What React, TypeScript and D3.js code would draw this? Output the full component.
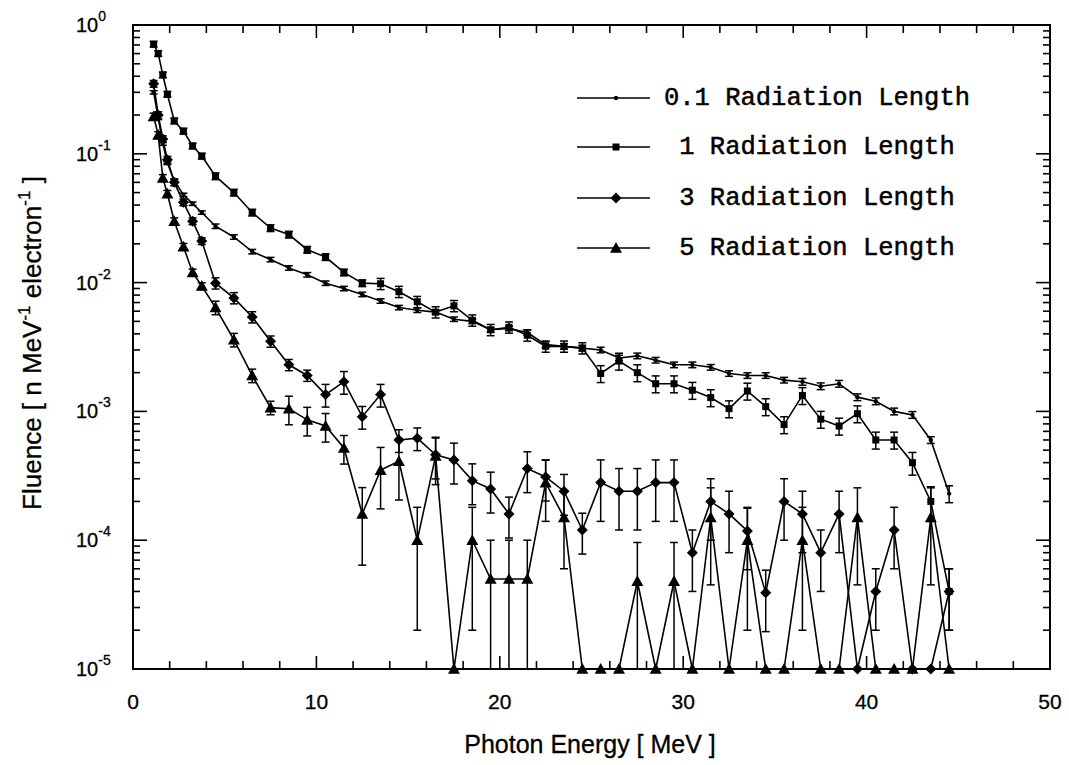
import React from "react";
import * as d3 from "d3";

// Photon energy bin centres (MeV)
const ENERGY = [1.125, 1.375, 1.625, 1.875, 2.25, 2.75, 3.25, 3.75, 4.5, 5.5, 6.5, 7.5, 8.5, 9.5, 10.5, 11.5, 12.5, 13.5, 14.5, 15.5, 16.5, 17.5, 18.5, 19.5, 20.5, 21.5, 22.5, 23.5, 24.5, 25.5, 26.5, 27.5, 28.5, 29.5, 30.5, 31.5, 32.5, 33.5, 34.5, 35.5, 36.5, 37.5, 38.5, 39.5, 40.5, 41.5, 42.5, 43.5, 44.5];

// Fluence per series (0 = empty bin, drawn on the bottom axis)
const FLU_01 = [0.30, 0.19, 0.12, 0.085, 0.062, 0.048, 0.041, 0.035, 0.0274, 0.0226, 0.0174, 0.0151, 0.013, 0.0115, 0.0099, 0.009, 0.0081, 0.0072, 0.0064, 0.0061, 0.0059, 0.0052, 0.005, 0.0043, 0.0044, 0.0041, 0.0033, 0.0032, 0.0031, 0.003, 0.0026, 0.0027, 0.0025, 0.0023, 0.0023, 0.0022, 0.00197, 0.0019, 0.0019, 0.00175, 0.0017, 0.00157, 0.00164, 0.00129, 0.0012, 0.001, 0.00094, 0.0006, 0.00023];
const FLU_1 = [0.71, 0.60, 0.41, 0.29, 0.18, 0.15, 0.115, 0.096, 0.067, 0.05, 0.035, 0.0265, 0.0236, 0.018, 0.0158, 0.012, 0.0099, 0.0098, 0.0085, 0.0071, 0.0059, 0.0066, 0.0051, 0.0043, 0.0045, 0.0039, 0.0032, 0.0032, 0.0031, 0.00197, 0.00246, 0.002, 0.00164, 0.00164, 0.00146, 0.00128, 0.00105, 0.00144, 0.00109, 0.00079, 0.00133, 0.00087, 0.00077, 0.00096, 0.0006, 0.0006, 0.0004, 0.0002, 0.00004];
const FLU_3 = [0.35, 0.20, 0.13, 0.09, 0.06, 0.042, 0.03, 0.021, 0.0099, 0.0076, 0.0054, 0.0035, 0.0023, 0.0019, 0.00135, 0.0017, 0.00091, 0.00135, 0.0006, 0.00062, 0.00046, 0.00042, 0.00029, 0.00025, 0.00016, 0.00036, 0.00031, 0.00024, 0.00012, 0.00028, 0.00024, 0.00024, 0.00028, 0.00028, 0.00008, 0.0002, 0.00016, 0.000118, 0.000039, 0.0002, 0.00016, 0.00008, 0.00016, 0, 0.00004, 0.00012, 0, 0, 0.00004];
const FLU_5 = [0.195, 0.14, 0.065, 0.049, 0.03, 0.019, 0.012, 0.0094, 0.0064, 0.0036, 0.0019, 0.00107, 0.00105, 0.00086, 0.00077, 0.00052, 0.00016, 0.00035, 0.00041, 0.0001, 0.00045, 0, 0.0001, 0.00005, 0.00005, 0.00005, 0.00028, 0.00015, 0, 0, 0, 0.000048, 0, 0.000048, 0, 0.00015, 0, 0.0001, 0, 0, 0.0001, 0, 0, 0.00015, 0, 0, 0, 0.00015, 0];

// Relative statistical errors per point
const ERR_01 = [0.03, 0.03, 0.03, 0.03, 0.03, 0.03, 0.03, 0.03, 0.04, 0.04, 0.04, 0.04, 0.04, 0.04, 0.04, 0.04, 0.04, 0.04, 0.04, 0.04, 0.04, 0.04, 0.04, 0.04, 0.04, 0.05, 0.05, 0.05, 0.05, 0.05, 0.05, 0.05, 0.05, 0.05, 0.05, 0.05, 0.05, 0.05, 0.05, 0.05, 0.06, 0.06, 0.06, 0.06, 0.06, 0.06, 0.06, 0.06, 0.15];
const ERR_1 = [0.05, 0.05, 0.05, 0.05, 0.05, 0.05, 0.05, 0.05, 0.06, 0.06, 0.06, 0.06, 0.06, 0.06, 0.06, 0.06, 0.06, 0.1, 0.1, 0.1, 0.1, 0.1, 0.1, 0.1, 0.1, 0.1, 0.1, 0.1, 0.1, 0.15, 0.15, 0.15, 0.15, 0.15, 0.15, 0.15, 0.15, 0.15, 0.15, 0.15, 0.15, 0.15, 0.15, 0.15, 0.15, 0.15, 0.2, 0.3, 0.5];
const ERR_3 = [0.06, 0.06, 0.06, 0.06, 0.06, 0.06, 0.06, 0.06, 0.1, 0.1, 0.1, 0.1, 0.1, 0.1, 0.2, 0.2, 0.2, 0.2, 0.2, 0.2, 0.35, 0.35, 0.35, 0.35, 0.35, 0.35, 0.35, 0.35, 0.35, 0.5, 0.5, 0.5, 0.5, 0.5, 0.5, 0.5, 0.5, 0.5, 0.5, 0.5, 0.5, 0.5, 0.5, 0, 0.5, 0.5, 0, 0, 0.5];
const ERR_5 = [0.06, 0.06, 0.06, 0.06, 0.06, 0.06, 0.06, 0.06, 0.12, 0.12, 0.12, 0.12, 0.25, 0.25, 0.25, 0.25, 0.6, 0.5, 0.5, 0.8, 0.4, 0, 0.8, 1, 1, 1, 0.5, 0.6, 0, 0, 0, 1, 0, 1, 0, 0.7, 0, 0.8, 0, 0, 0.8, 0, 0, 0.7, 0, 0, 0, 0.7, 0];

const SERIES_LABELS = ["0.1 Radiation Length", "1 Radiation Length", "3 Radiation Length", "5 Radiation Length"];
const SERIES_MARKERS = ["dot", "square", "diamond", "triangle"];
const SERIES_VALUES = [FLU_01, FLU_1, FLU_3, FLU_5];
const SERIES_ERRORS = [ERR_01, ERR_1, ERR_3, ERR_5];

const X_MAJOR = [0, 10, 20, 30, 40, 50];
const Y_EXP = [0, -1, -2, -3, -4, -5];

const W = 1069;
const H = 765;
const L = 133, R = 1050, T = 25, B = 669;
const YMIN = 1e-5;

const x = d3.scaleLinear().domain([0, 50]).range([L, R]);
const y = d3.scaleLog().domain([YMIN, 1]).range([B, T]);
const yc = (v: number) => y(Math.max(v, YMIN));

function marker(kind: string, cx: number, cy: number, key: string) {
  if (kind === "dot") return <circle key={key} cx={cx} cy={cy} r={2.2} fill="#000" />;
  if (kind === "square") return <rect key={key} x={cx - 3.5} y={cy - 3.5} width={7} height={7} fill="#000" />;
  if (kind === "diamond") {
    const s = 5.5;
    return <path key={key} d={`M${cx},${cy - s}L${cx + s},${cy}L${cx},${cy + s}L${cx - s},${cy}Z`} fill="#000" />;
  }
  const s = 6;
  return <path key={key} d={`M${cx},${cy - s}L${cx + s},${cy + s * 0.8}L${cx - s},${cy + s * 0.8}Z`} fill="#000" />;
}

export default function App() {
  const line = d3.line<number>().x((_, i) => x(ENERGY[i])).y((v) => yc(v));
  const xMinor = d3.range(0, 51, 2).filter((v) => v % 10 !== 0);
  const yMinor: number[] = [];
  for (let e = -5; e < 0; e++) for (let k = 2; k <= 9; k++) yMinor.push(k * Math.pow(10, e));

  const axisFont = "'Liberation Sans', Arial, Helvetica, sans-serif";
  const legendRows = [98, 147, 198, 248];

  return (
    <svg width={W} height={H} style={{ position: "absolute", left: 0, top: 0, background: "#fff" }}>
      <rect x={0} y={0} width={W} height={H} fill="#fff" />
      {/* ticks */}
      <g stroke="#000" strokeWidth={1.6}>
        {X_MAJOR.map((v) => (
          <g key={"xM" + v}>
            <line x1={x(v)} x2={x(v)} y1={B} y2={B - 13} />
            <line x1={x(v)} x2={x(v)} y1={T} y2={T + 13} />
          </g>
        ))}
        {xMinor.map((v) => (
          <g key={"xm" + v}>
            <line x1={x(v)} x2={x(v)} y1={B} y2={B - 8} />
            <line x1={x(v)} x2={x(v)} y1={T} y2={T + 8} />
          </g>
        ))}
        {Y_EXP.map((e) => (
          <g key={"yM" + e}>
            <line x1={L} x2={L + 14} y1={y(Math.pow(10, e))} y2={y(Math.pow(10, e))} />
            <line x1={R} x2={R - 14} y1={y(Math.pow(10, e))} y2={y(Math.pow(10, e))} />
          </g>
        ))}
        {yMinor.map((v, i) => (
          <g key={"ym" + i}>
            <line x1={L} x2={L + 7} y1={y(v)} y2={y(v)} />
            <line x1={R} x2={R - 7} y1={y(v)} y2={y(v)} />
          </g>
        ))}
      </g>
      <rect x={L} y={T} width={R - L} height={B - T} fill="none" stroke="#000" strokeWidth={2} />

      {/* tick labels */}
      <g fontFamily={axisFont} fill="#000" stroke="#000" strokeWidth={0.3}>
        {X_MAJOR.map((v) => (
          <text key={"xl" + v} x={x(v)} y={709} fontSize={21} textAnchor="middle">{v}</text>
        ))}
        {Y_EXP.map((e) => (
          <text key={"yl" + e} x={76} y={y(Math.pow(10, e)) + 7} fontSize={20}>
            10<tspan fontSize={14} dy={-11}>{e === 0 ? "0" : "-" + Math.abs(e)}</tspan>
          </text>
        ))}
        <text x={590} y={753} fontSize={25} textAnchor="middle">Photon Energy [ MeV ]</text>
        <text transform={`translate(41,343) rotate(-90)`} fontSize={26} textAnchor="middle">
          Fluence [ n MeV<tspan fontSize={17} dy={-11}>-1</tspan><tspan dy={11}> electron</tspan><tspan fontSize={17} dy={-11}>-1</tspan><tspan dy={11}> ]</tspan>
        </text>
      </g>

      {/* series */}
      {SERIES_VALUES.map((vals, si) => (
        <g key={"s" + si}>
          <path d={line(vals) || ""} fill="none" stroke="#000" strokeWidth={1.6} />
          <g stroke="#000" strokeWidth={1.5}>
            {vals.map((v, i) => {
              const e = SERIES_ERRORS[si][i];
              if (!(v > 0) || e <= 0) return null;
              const cx = x(ENERGY[i]);
              const hi = yc(v * (1 + e));
              const lo = yc(v * (1 - e));
              return (
                <g key={"e" + i}>
                  <line x1={cx} x2={cx} y1={hi} y2={lo} />
                  <line x1={cx - 4} x2={cx + 4} y1={hi} y2={hi} />
                  {lo < B - 0.5 && <line x1={cx - 4} x2={cx + 4} y1={lo} y2={lo} />}
                </g>
              );
            })}
          </g>
          {vals.map((v, i) => marker(SERIES_MARKERS[si], x(ENERGY[i]), yc(v), "m" + i))}
        </g>
      ))}

      {/* legend */}
      {SERIES_LABELS.map((lab, i) => (
        <g key={"lg" + i}>
          <line x1={577} x2={650} y1={legendRows[i]} y2={legendRows[i]} stroke="#000" strokeWidth={1.6} />
          {marker(SERIES_MARKERS[i], 616, legendRows[i], "lm" + i)}
          <text x={817} y={legendRows[i] + 7} fontFamily="'Liberation Mono', 'Courier New', monospace" fontSize={25.5} textAnchor="middle" fill="#000" stroke="#000" strokeWidth={0.5}>{lab}</text>
        </g>
      ))}
    </svg>
  );
}
